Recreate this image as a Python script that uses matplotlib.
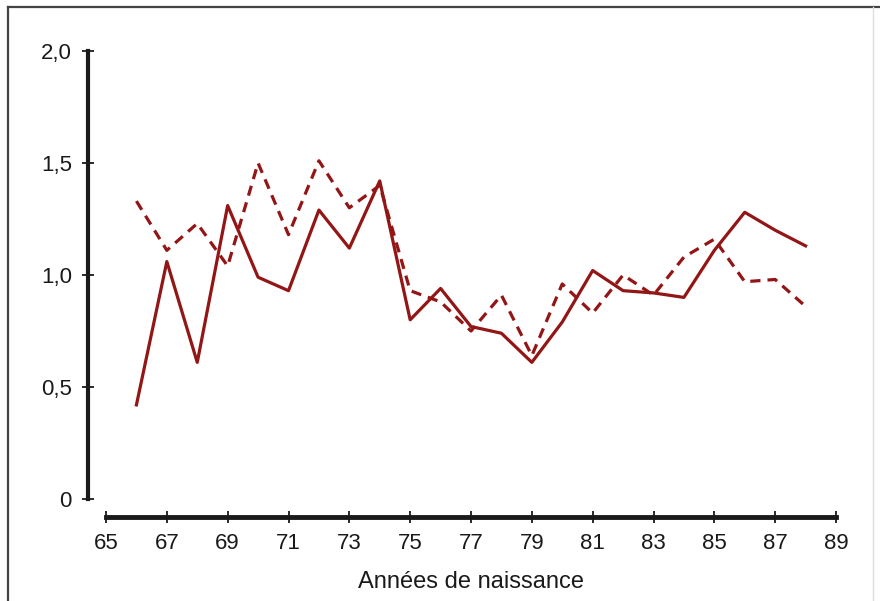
import matplotlib.pyplot as plt
from matplotlib.lines import Line2D
from matplotlib.ticker import FuncFormatter

plt.rcParams['font.family'] = ['Liberation Sans Narrow', 'Liberation Sans', 'DejaVu Sans']

years = list(range(66, 89))
solid = [0.42, 1.06, 0.61, 1.31, 0.99, 0.93, 1.29, 1.12, 1.42, 0.80, 0.94, 0.77,
         0.74, 0.61, 0.79, 1.02, 0.93, 0.92, 0.90, 1.11, 1.28, 1.20, 1.13]
dashed = [1.33, 1.11, 1.23, 1.04, 1.50, 1.18, 1.51, 1.30, 1.40, 0.93, 0.88, 0.75,
          0.91, 0.64, 0.96, 0.83, 1.00, 0.91, 1.08, 1.16, 0.97, 0.98, 0.86]
xticks = list(range(65, 90, 2))
yticks = [0, 0.5, 1.0, 1.5, 2.0]

red = '#931616'

fig = plt.figure(figsize=(8.8, 6.01), dpi=100)
ax = fig.add_axes([106/880, 102/601, 730/880, 448/601])

ax.plot(years, solid, '-', color=red, lw=2.3)
ax.plot(years, dashed, '--', color=red, lw=2.3, dashes=(3.2, 2.2))

ax.set_xlim(65, 89)
ax.set_ylim(0, 2)
ax.set_xticks(xticks)
ax.set_yticks(yticks)

def fmt(v, pos):
    if v == 0:
        return '0'
    return ('%.1f' % v).replace('.', ',')

ax.yaxis.set_major_formatter(FuncFormatter(fmt))

for s in ['top', 'right']:
    ax.spines[s].set_visible(False)
ax.spines['left'].set_position(('outward', 13))
ax.spines['bottom'].set_position(('outward', 13))
ax.spines['left'].set_linewidth(3)
ax.spines['bottom'].set_linewidth(3.5)
ax.spines['left'].set_color('#1a1a1a')
ax.spines['bottom'].set_color('#1a1a1a')

ax.tick_params(axis='both', direction='inout', length=9, width=1.3,
               color='#1a1a1a', labelsize=16, labelcolor='#1a1a1a')
ax.tick_params(axis='x', pad=7)
ax.tick_params(axis='y', pad=7)

ax.set_xlabel('Années de naissance', fontsize=17, color='#1a1a1a', labelpad=12)

# picture frame
fig.add_artist(Line2D([8/880, 8/880], [0, 1 - 7/601], transform=fig.transFigure,
                      color='#444444', lw=1.6))
fig.add_artist(Line2D([8/880, 1], [1 - 7/601, 1 - 7/601], transform=fig.transFigure,
                      color='#444444', lw=1.6))
fig.add_artist(Line2D([873/880, 873/880], [0, 1 - 7/601], transform=fig.transFigure,
                      color='#dddddd', lw=1))

plt.savefig('out.png', dpi=100)
